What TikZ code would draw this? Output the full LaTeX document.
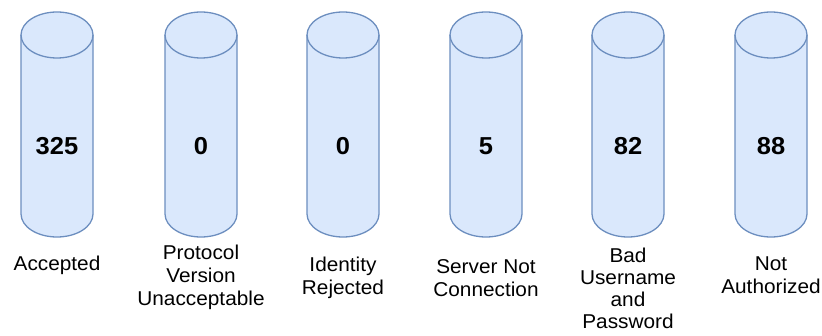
\documentclass[tikz,border=0pt]{standalone}
\usepackage{fontspec}
\setmainfont{Liberation Sans}
\definecolor{cylfill}{HTML}{DAE8FC}
\definecolor{cylstroke}{HTML}{6C8EBF}
\tikzset{
  cylbody/.style={fill=cylfill, draw=cylstroke, line width=1.3pt, line join=round},
  cylrim/.style={draw=cylstroke, line width=1.3pt},
  countlabel/.style={font=\fontsize{24.5}{28}\selectfont\bfseries, inner sep=0pt, xscale=1.04, transform shape},
  caption/.style={font=\fontsize{20}{23}\selectfont, align=center, inner sep=0pt, xscale=1.04, transform shape},
  tightcaption/.style={caption, font=\fontsize{20}{22}\selectfont}
}
\begin{document}
\begin{tikzpicture}[x=1pt, y=1pt]
  \useasboundingbox (0,0) rectangle (822,-336);
  \def\rx{36}
  \def\ry{23}
  \foreach \i/\cx/\num/\txt/\ty in {
      1/57/325/{Accepted}/265,
      2/201/0/{Protocol\\Version\\Unacceptable}/277,
      3/343/0/{Identity\\Rejected}/278,
      4/486/5/{Server Not\\Connection}/278,
      5/628/82/{}/0,
      6/771/88/{Not\\Authorized}/275.5} {
    % cylinder body with its top ellipse
    \draw[cylbody] (\cx-\rx,-35) -- (\cx-\rx,-214)
      arc[start angle=180, end angle=360, x radius=\rx, y radius=\ry]
      -- (\cx+\rx,-35)
      arc[start angle=0, end angle=180, x radius=\rx, y radius=\ry] -- cycle;
    \draw[cylrim] (\cx-\rx,-35)
      arc[start angle=180, end angle=360, x radius=\rx, y radius=\ry];
    \node[countlabel] (n\i) at (\cx,-146) {\num};
    \ifnum\i=5\else
      \node[caption] (l\i) at (\cx,-\ty) {\txt};
    \fi
  }
  % the four-line caption sits close to the lower edge
  \node[tightcaption] (l5) at (628,-288) {Bad\\Username\\and\\Password};
\end{tikzpicture}
\end{document}
